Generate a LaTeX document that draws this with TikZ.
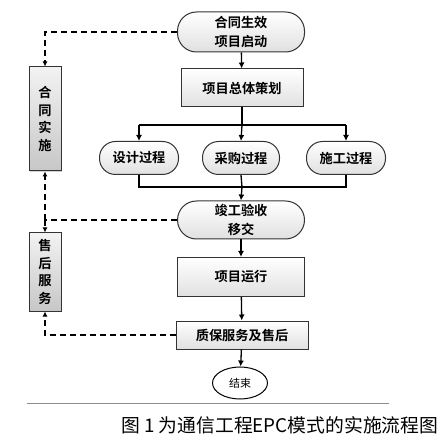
\documentclass[tikz,border=0pt]{standalone}
\usepackage{fontspec}
\newfontfamily\cjk{Noto Sans CJK SC}
\newfontfamily\cjkb{Noto Sans CJK SC Bold}
\usetikzlibrary{arrows.meta,shadows,shapes.geometric}
\begin{document}
\begin{tikzpicture}[x=1pt,y=-1pt,
  every node/.style={font=\cjkb\fontsize{13.2}{19.5}\selectfont,align=center,inner sep=0pt},
  base/.style={draw=black!80,line width=1pt,top color=white,bottom color=black!12},
  stad/.style={base,rounded corners=19pt},
  pbox/.style={base},
  sidebox/.style={draw=black!80,line width=1pt,top color=black!5,bottom color=black!22,
    font=\cjkb\fontsize{13.2}{17.5}\selectfont,
    drop shadow={shadow xshift=1.2pt,shadow yshift=-1.2pt,opacity=0.35}},
  arr/.style={line width=1.3pt,-{Latex[length=6pt,width=6pt]}},
  ln/.style={line width=1.3pt},
  dsh/.style={line width=1.2pt,dash pattern=on 6pt off 4pt},
  darr/.style={dsh,-{Latex[length=5pt,width=5pt]}}]
\useasboundingbox (0,0) rectangle (445,441);
\fill[white] (0,0) rectangle (445,441);
\node[stad,minimum width=127pt,minimum height=40pt] (start) at (241,32) {合同生效\\项目启动};
\node[pbox,minimum width=122pt,minimum height=38pt] (plan) at (242,88) {项目总体策划};
\node[stad,rounded corners=16pt,minimum width=79pt,minimum height=33pt] (design) at (139,158) {设计过程};
\node[stad,rounded corners=16pt,minimum width=77pt,minimum height=33pt] (buy) at (241,158) {采购过程};
\node[stad,rounded corners=16pt,minimum width=79pt,minimum height=33pt] (build) at (346,158) {施工过程};
\node[stad,minimum width=127pt,minimum height=38pt] (accept) at (241,220) {竣工验收\\移交};
\node[pbox,minimum width=127pt,minimum height=39pt] (run) at (241,277) {项目运行};
\node[pbox,minimum width=132pt,minimum height=28pt] (qa) at (242,335) {质保服务及售后};
\node[draw=black,line width=1pt,ellipse,fill=white,minimum width=55pt,minimum height=32pt,font=\cjk\fontsize{11}{13}\selectfont] (fin) at (240,383) {结束};
\node[sidebox,minimum width=32pt,minimum height=104pt] (left1) at (45,119) {合\\同\\实\\施};
\node[sidebox,minimum width=32pt,minimum height=78pt] (left2) at (45,272) {售\\后\\服\\务};
% main flow
\draw[arr] (start) -- (plan);
\draw[ln] (plan.south) -- (242,125) coordinate (br);
\draw[ln] (br -| design) -- (br -| build);
\draw[arr] (br -| design) -- (design.north);
\draw[arr] (br) -- (buy.north);
\draw[arr] (br -| build) -- (build.north);
\coordinate (mg) at (242,187);
\draw[ln] (design.south) |- (mg) -| (build.south);
\draw[ln] (buy.south) -- (mg);
\draw[arr] (mg) -- (accept.north);
\draw[arr] (accept) -- (run);
\draw[arr] (run) -- (qa);
\draw[arr] (qa) -- (fin);
% dashed
\draw[darr] (start.west) -| (left1.north);
\coordinate (j) at (accept.west -| left1);
\draw[dsh] (accept.west) -- (j);
\draw[darr] (j) -- (left1.south);
\draw[darr] (j) -- (left2.north);
\draw[darr] (qa.west) -| (left2.south);
% caption
\draw[black!45,line width=0.8pt] (27,403) -- (389,403);
\node[font=\cjk\fontsize{18.8}{20}\selectfont,anchor=west] (cap) at (121,425) {图 1 为通信工程EPC模式的实施流程图};
\end{tikzpicture}
\end{document}
